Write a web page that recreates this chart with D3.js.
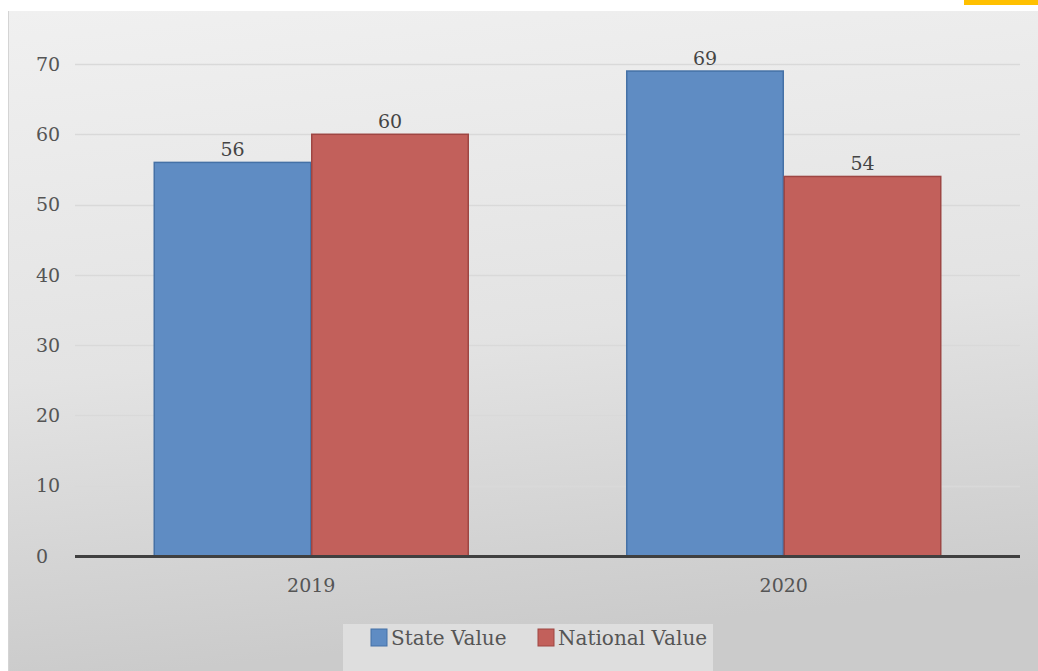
<!DOCTYPE html>
<html>
<head>
<meta charset="utf-8">
<script src="https://cdn.jsdelivr.net/npm/d3@7"></script>
<style>
  html, body { margin: 0; padding: 0; background: #ffffff; }
  svg { display: block; }
</style>
</head>
<body>
<svg id="chart" width="1038" height="671"></svg>
<script>
// Data
const years = ["2019", "2020"];
const seriesNames = ["State Value", "National Value"];
const stateValues = [56, 69];
const nationalValues = [60, 54];
const yTicks = [0, 10, 20, 30, 40, 50, 60, 70];

const fills = ["#5f8cc3", "#c2605b"];
const strokes = ["#4571a6", "#9e4643"];
const FONT = "'DejaVu Serif', serif";

const W = 1038, H = 671;
const svg = d3.select("#chart");

// Background gradient panel
const defs = svg.append("defs");
const grad = defs.append("linearGradient")
  .attr("id", "bg").attr("x1", "0").attr("y1", "0").attr("x2", "0.15").attr("y2", "1");
grad.append("stop").attr("offset", "0%").attr("stop-color", "#f0f0f0");
grad.append("stop").attr("offset", "55%").attr("stop-color", "#e3e3e3");
grad.append("stop").attr("offset", "100%").attr("stop-color", "#cbcbcb");

svg.append("rect").attr("x", 0).attr("y", 0).attr("width", W).attr("height", H).attr("fill", "#ffffff");
svg.append("rect").attr("x", 8).attr("y", 11).attr("width", W - 8).attr("height", H - 11).attr("fill", "url(#bg)");
svg.append("line").attr("x1", 8.5).attr("x2", 8.5).attr("y1", 11).attr("y2", H)
  .attr("stroke", "#d4d4d4").attr("stroke-width", 1);
// accent tab in the top-right corner
svg.append("rect").attr("x", 964).attr("y", 0).attr("width", 74).attr("height", 5).attr("fill", "#ffc000");

// Scales
const plot = { left: 75, right: 1020, top: 64, bottom: 556 };
const y = d3.scaleLinear().domain([0, 70]).range([plot.bottom, plot.top]);
const x0 = d3.scaleBand().domain(years).range([plot.left, plot.right]).padding(0);
const x1 = d3.scaleBand().domain(seriesNames)
  .range([x0.bandwidth() / 6, x0.bandwidth() * 5 / 6]).padding(0);

// Gridlines
svg.append("g")
  .selectAll("line")
  .data(yTicks.filter(d => d > 0))
  .join("line")
  .attr("x1", plot.left).attr("x2", plot.right)
  .attr("y1", d => Math.round(y(d)) + 0.5).attr("y2", d => Math.round(y(d)) + 0.5)
  .attr("stroke", "#d9d9d9").attr("stroke-width", 1.5);

// Y tick labels (left-aligned column)
svg.append("g")
  .selectAll("text")
  .data(yTicks)
  .join("text")
  .attr("x", 36).attr("y", d => y(d))
  .attr("dy", "0.35em")
  .attr("text-anchor", "start")
  .attr("font-family", FONT)
  .attr("font-size", 19)
  .attr("fill", "#555555")
  .text(d => d);

// Bars
const rows = years.map((yr, i) => ({ year: yr, values: [stateValues[i], nationalValues[i]] }));
const groups = svg.append("g").selectAll("g")
  .data(rows).join("g")
  .attr("transform", d => `translate(${x0(d.year)},0)`);

groups.selectAll("rect")
  .data(d => d.values.map((v, k) => ({ name: seriesNames[k], value: v, k })))
  .join("rect")
  .attr("x", d => x1(d.name) + 0.5)
  .attr("y", d => y(d.value))
  .attr("width", x1.bandwidth() - 1)
  .attr("height", d => y(0) - y(d.value))
  .attr("fill", d => fills[d.k])
  .attr("stroke", d => strokes[d.k])
  .attr("stroke-width", 1.5);

// Value labels
groups.selectAll("text")
  .data(d => d.values.map((v, k) => ({ name: seriesNames[k], value: v, k })))
  .join("text")
  .attr("x", d => x1(d.name) + x1.bandwidth() / 2)
  .attr("y", d => y(d.value) - 6)
  .attr("text-anchor", "middle")
  .attr("font-family", FONT)
  .attr("font-size", 19)
  .attr("fill", "#444444")
  .text(d => d.value);

// X axis line
svg.append("line")
  .attr("x1", plot.left).attr("x2", plot.right)
  .attr("y1", y(0) + 0.5).attr("y2", y(0) + 0.5)
  .attr("stroke", "#404040").attr("stroke-width", 3);

// X labels
svg.append("g").selectAll("text")
  .data(years).join("text")
  .attr("x", d => x0(d) + x0.bandwidth() / 2)
  .attr("y", 592)
  .attr("text-anchor", "middle")
  .attr("font-family", FONT)
  .attr("font-size", 19)
  .attr("fill", "#555555")
  .text(d => d);

// Legend
const legend = svg.append("g");
legend.append("rect").attr("x", 343).attr("y", 624).attr("width", 370).attr("height", 47).attr("fill", "#dedede");
const legendX = [371, 538];
seriesNames.forEach((name, k) => {
  legend.append("rect")
    .attr("x", legendX[k]).attr("y", 629).attr("width", 16).attr("height", 17)
    .attr("fill", fills[k]).attr("stroke", strokes[k]).attr("stroke-width", 1);
  legend.append("text")
    .attr("x", legendX[k] + 20).attr("y", 645)
    .attr("font-family", FONT)
    .attr("font-size", 20)
    .attr("fill", "#555555")
    .text(name);
});
</script>
</body>
</html>
